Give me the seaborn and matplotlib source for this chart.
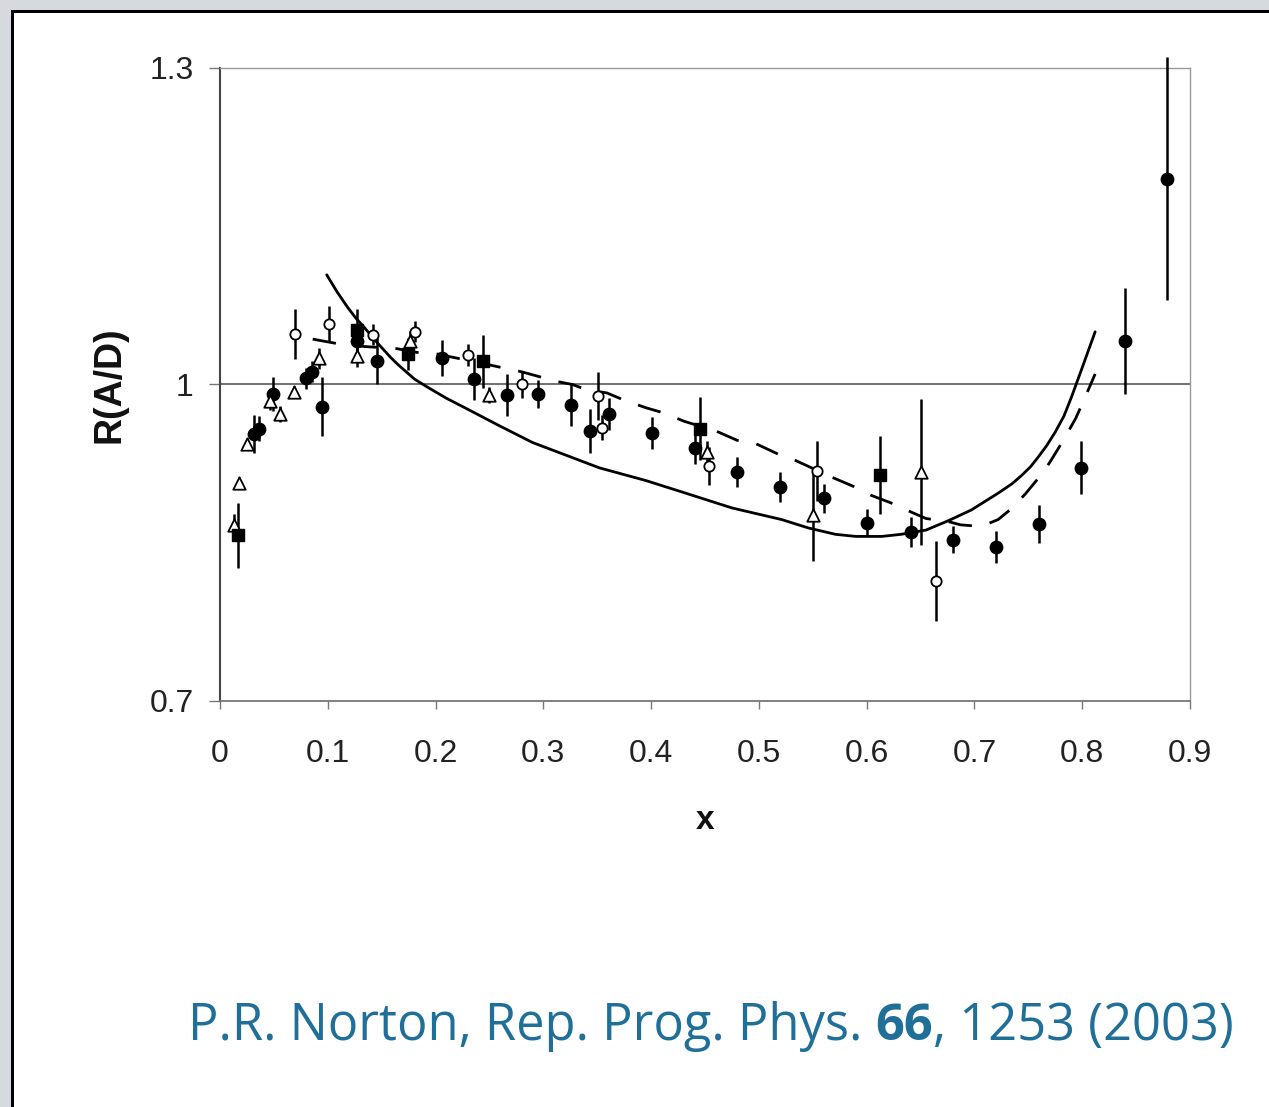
import matplotlib
matplotlib.use("Agg")
import matplotlib.pyplot as plt
from matplotlib.patches import Rectangle
import numpy as np
import pandas as pd
import seaborn as sns

# ---- nuclear structure ratio R(A/D) versus Bjorken x ----
# filled circles
fc_x = [0.032, 0.036, 0.049, 0.080, 0.085, 0.095, 0.127, 0.146, 0.206, 0.236,
        0.266, 0.295, 0.326, 0.343, 0.361, 0.401, 0.441, 0.480, 0.520, 0.560,
        0.600, 0.641, 0.680, 0.720, 0.760, 0.799, 0.840, 0.879]
fc_y = [0.953, 0.958, 0.991, 1.006, 1.012, 0.979, 1.041, 1.022, 1.025, 1.005,
        0.990, 0.991, 0.981, 0.956, 0.972, 0.954, 0.940, 0.917, 0.903, 0.892,
        0.869, 0.860, 0.853, 0.846, 0.868, 0.921, 1.041, 1.195]
fc_err = [0.018, 0.012, 0.016, 0.010, 0.010, 0.028, 0.012, 0.022, 0.017, 0.020,
          0.020, 0.013, 0.020, 0.021, 0.015, 0.015, 0.015, 0.014, 0.014, 0.014,
          0.013, 0.014, 0.013, 0.015, 0.018, 0.025, 0.050, 0.115]

# open circles
oc_x = [0.070, 0.101, 0.142, 0.181, 0.230, 0.280, 0.351, 0.354, 0.454, 0.554, 0.664]
oc_y = [1.048, 1.057, 1.047, 1.050, 1.028, 1.000, 0.989, 0.959, 0.923, 0.918, 0.814]
oc_err = [0.024, 0.017, 0.010, 0.010, 0.010, 0.013, 0.023, 0.012, 0.018, 0.028, 0.038]

# open triangles
ot_x = [0.013, 0.018, 0.025, 0.046, 0.056, 0.069, 0.092, 0.127, 0.176, 0.250,
        0.452, 0.550, 0.650]
ot_y = [0.867, 0.907, 0.944, 0.984, 0.972, 0.993, 1.025, 1.027, 1.041, 0.990,
        0.936, 0.876, 0.917]
ot_err = [0.010, 0.005, 0.005, 0.008, 0.008, 0.006, 0.010, 0.010, 0.010, 0.008,
          0.010, 0.043, 0.069]

# filled squares
fs_x = [0.017, 0.127, 0.174, 0.244, 0.445, 0.612]
fs_y = [0.857, 1.052, 1.029, 1.022, 0.958, 0.914]
fs_err = [0.031, 0.020, 0.015, 0.025, 0.030, 0.037]

# model curves
solid_x = [0.099, 0.1085, 0.1185, 0.126, 0.134, 0.142, 0.150, 0.158, 0.165,
           0.1806, 0.1917, 0.210, 0.229, 0.259, 0.290, 0.321, 0.352, 0.395,
           0.429, 0.475, 0.521, 0.546, 0.571, 0.590, 0.614, 0.632, 0.655,
           0.676, 0.697, 0.722, 0.735, 0.744, 0.752, 0.759, 0.767, 0.775,
           0.783, 0.790, 0.800, 0.812]
solid_y = [1.104, 1.088, 1.073, 1.063, 1.054, 1.044, 1.035, 1.026, 1.019,
           1.005, 0.998, 0.987, 0.977, 0.961, 0.945, 0.933, 0.921, 0.909,
           0.898, 0.883, 0.872, 0.864, 0.858, 0.856, 0.856, 0.858, 0.862,
           0.871, 0.881, 0.897, 0.906, 0.914, 0.922, 0.931, 0.942, 0.955,
           0.970, 0.988, 1.016, 1.050]

dash_x = [0.086, 0.113, 0.134, 0.164, 0.185, 0.201, 0.248, 0.266, 0.280, 0.312,
          0.327, 0.340, 0.359, 0.373, 0.395, 0.412, 0.431, 0.460, 0.480, 0.497,
          0.520, 0.534, 0.551, 0.568, 0.591, 0.604, 0.622, 0.637, 0.655, 0.676,
          0.687, 0.699, 0.710, 0.722, 0.734, 0.747, 0.764, 0.771, 0.783, 0.794,
          0.801, 0.812]
dash_y = [1.043, 1.038, 1.036, 1.034, 1.030, 1.029, 1.019, 1.015, 1.012, 1.003,
          1.000, 0.995, 0.992, 0.986, 0.978, 0.973, 0.965, 0.956, 0.947, 0.944,
          0.933, 0.928, 0.920, 0.912, 0.902, 0.895, 0.888, 0.881, 0.873, 0.870,
          0.867, 0.866, 0.867, 0.872, 0.882, 0.896, 0.917, 0.928, 0.948, 0.968,
          0.984, 1.010]

x_ticks = [0, 0.1, 0.2, 0.3, 0.4, 0.5, 0.6, 0.7, 0.8, 0.9]
x_tick_labels = ["0", "0.1", "0.2", "0.3", "0.4", "0.5", "0.6", "0.7", "0.8", "0.9"]
y_ticks = [0.7, 1.0, 1.3]
y_tick_labels = ["0.7", "1", "1.3"]

citation_parts = ["P.R. Norton, Rep. Prog. Phys. ", "66", ", 1253 (2003)"]

sns.set_theme(style="white")
plt.rcParams["font.family"] = ["Liberation Sans", "DejaVu Sans"]

W, H = 1269, 1107
fig = plt.figure(figsize=(W / 100, H / 100), dpi=100)
fig.patch.set_facecolor("white")

# slide frame: grey strips and dark border
fig.patches.append(Rectangle((0, 1 - 10 / H), 1, 10 / H, transform=fig.transFigure,
                             facecolor="#d6d9dd", edgecolor="none", zorder=0))
fig.patches.append(Rectangle((0, 0), 11 / W, 1, transform=fig.transFigure,
                             facecolor="#d6d9dd", edgecolor="none", zorder=0))
fig.patches.append(Rectangle((11 / W, 0), 3 / W, 1 - 10 / H, transform=fig.transFigure,
                             facecolor="black", edgecolor="none", zorder=1))
fig.patches.append(Rectangle((11 / W, 1 - 13 / H), 1, 3 / H, transform=fig.transFigure,
                             facecolor="black", edgecolor="none", zorder=1))

ax = fig.add_axes([220 / W, 1 - 701 / H, 970 / W, 633 / H])
ax.set_facecolor("white")

# reference line at R = 1
ax.axhline(1.0, color="#666666", lw=1.3, zorder=1)

# model curves
sns.lineplot(x=solid_x, y=solid_y, ax=ax, color="black", lw=2.0, sort=False,
             estimator=None, zorder=3)
dl = sns.lineplot(x=dash_x, y=dash_y, ax=ax, color="black", lw=2.0, sort=False,
                  estimator=None, zorder=3)
dl.lines[-1].set_dashes((8.5, 6.5))

series = [
    (fc_x, fc_y, fc_err, "o", "black", "black", 80, 1.0),
    (oc_x, oc_y, oc_err, "o", "white", "black", 55, 1.3),
    (ot_x, ot_y, ot_err, "^", "white", "black", 80, 1.3),
    (fs_x, fs_y, fs_err, "s", "black", "black", 70, 1.0),
]
for xs, ys, es, mk, fcol, ecol, size, elw in series:
    df = pd.DataFrame({"x": xs, "R": ys, "err": es})
    ax.errorbar(df["x"], df["R"], yerr=df["err"], fmt="none", ecolor="black",
                elinewidth=1.8, capsize=0, zorder=4, clip_on=False)
    sns.scatterplot(data=df, x="x", y="R", ax=ax, marker=mk, s=size,
                    color=fcol, edgecolor=ecol, linewidth=elw, zorder=5,
                    clip_on=False)

ax.set_xlim(0, 0.9)
ax.set_ylim(0.7, 1.3)
ax.set_xticks(x_ticks)
ax.set_xticklabels(x_tick_labels)
ax.set_yticks(y_ticks)
ax.set_yticklabels(y_tick_labels)
ax.tick_params(axis="x", direction="out", length=6, width=1.0, color="#777777",
               pad=21, labelsize=23, labelcolor="#222222", bottom=True)
ax.tick_params(axis="y", direction="out", length=8, width=1.0, color="#777777",
               pad=11, labelsize=23, labelcolor="#222222", left=True)
for side, col, lw in [("left", "#444444", 1.5), ("bottom", "#777777", 1.3),
                      ("top", "#999999", 1.0), ("right", "#999999", 1.0)]:
    ax.spines[side].set_color(col)
    ax.spines[side].set_linewidth(lw)
ax.grid(False)

ax.set_xlabel("x", fontsize=24, fontweight="bold", labelpad=26, color="#111111")
ax.set_ylabel("R(A/D)", fontsize=27, fontweight="bold", labelpad=16, color="#111111")

# citation line, fitted to its span on the slide
fig.canvas.draw()
renderer = fig.canvas.get_renderer()
cite_color = "#1f6f98"
fs0 = 30
texts = []
for i, part in enumerate(citation_parts):
    t = fig.text(0, 0, part, fontsize=fs0, family=["Open Sans", "DejaVu Sans"],
                 fontweight="bold" if i == 1 else "normal", color=cite_color,
                 va="baseline", ha="left")
    texts.append(t)
total = sum(t.get_window_extent(renderer).width for t in texts)
scale = (1232 - 188) / total
x0 = 188.0
for t in texts:
    t.set_fontsize(fs0 * scale)
fig.canvas.draw()
for t in texts:
    t.set_position((x0 / W, 1 - 1040 / H))
    x0 += t.get_window_extent(renderer).width

fig.savefig("out.png", dpi=100, facecolor="white")
